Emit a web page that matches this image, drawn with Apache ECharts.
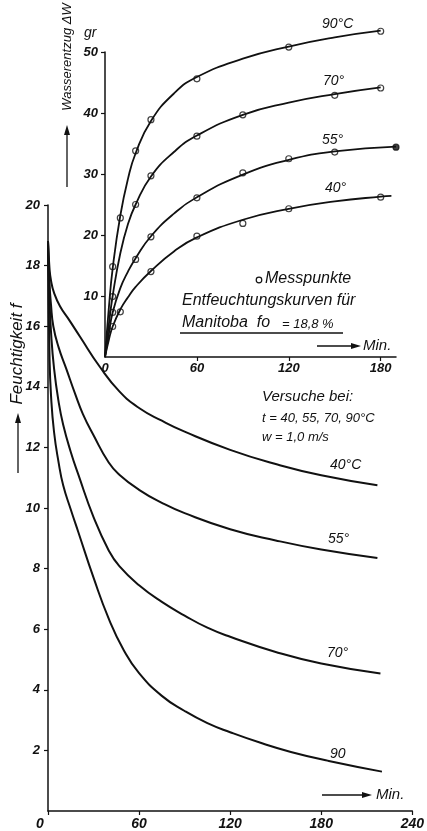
<!DOCTYPE html>
<html>
<head>
<meta charset="utf-8">
<script src="https://cdn.jsdelivr.net/npm/echarts@6.0.0/dist/echarts.min.js"></script>
<style>
  html, body { margin: 0; padding: 0; background: #fff; }
  #chart { width: 427px; height: 831px; }
</style>
</head>
<body>
<div id="chart"></div>
<script>
// ---- Feuchtigkeit f (%) over time, drying at 40, 55, 70, 90 °C ----
const fTicks = [2, 4, 6, 8, 10, 12, 14, 16, 18, 20];
const minTicksLower = [0, 60, 120, 180, 240];
const f40 = [[0,18.8],[1,17.9],[2,17.5],[4,17.1],[8,16.65],[14,16.2],[21,15.66],[34,14.67],[47,13.85],[60,13.3],[75,12.88],[90,12.52],[120,11.92],[150,11.45],[180,11.08],[217,10.75]];
const f55 = [[0,18.8],[1,17.4],[2,16.7],[3.5,16.0],[7,15.3],[12,14.6],[18,13.75],[23,13.1],[30,12.4],[40,11.5],[47,11.1],[60,10.6],[75,10.17],[90,9.83],[120,9.3],[150,8.93],[180,8.63],[217,8.35]];
const f70 = [[0,18.8],[1,16.9],[2,15.8],[4,14.6],[7,13.5],[10,12.75],[15,11.85],[20,11.1],[30,9.7],[40,8.6],[47,8.08],[60,7.45],[75,6.9],[90,6.45],[105,6.05],[120,5.75],[150,5.25],[180,4.87],[219,4.54]];
const f90 = [[0,18.8],[1,15.0],[2,13.7],[4,12.5],[7,11.5],[10,10.75],[15,9.95],[20,9.2],[30,7.7],[40,6.35],[50,5.3],[60,4.55],[75,3.8],[90,3.3],[105,2.9],[120,2.6],[140,2.25],[160,1.95],[185,1.65],[220,1.3]];

// ---- Wasserentzug ΔW (gr): measured points and drawn curves ----
const dwTicks = [10, 20, 30, 40, 50];
const minTicksUpper = [0, 60, 120, 180];
const dw90Pts = [[5,14.8],[10,22.8],[20,33.8],[30,38.9],[60,45.6],[120,50.8],[180,53.4]];
const dw70Pts = [[5,9.9],[20,25.0],[30,29.7],[60,36.2],[90,39.7],[150,42.9],[180,44.1]];
const dw55Pts = [[5,7.3],[20,16.0],[30,19.7],[60,26.1],[90,30.2],[120,32.5],[150,33.6]];
const dw55End = [[190,34.4]];
const dw40Pts = [[5,5.0],[10,7.4],[30,14.0],[60,19.8],[90,21.9],[120,24.3],[180,26.2]];
const dw90Curve = [[0,0],[2.5,8],[5,14.5],[10,23.2],[15,29.2],[20,33.4],[30,38.7],[45,43.2],[60,45.9],[90,48.9],[120,50.9],[150,52.4],[180,53.5]];
const dw70Curve = [[0,0],[2.5,5.3],[5,10],[10,17],[15,21.8],[20,25.0],[30,29.6],[45,33.6],[60,36.3],[90,39.7],[120,41.7],[150,43.1],[180,44.2]];
const dw55Curve = [[0,0],[2.5,3.8],[5,7.3],[10,11.3],[15,14.0],[20,16.2],[30,19.8],[45,23.5],[60,26.2],[90,29.9],[120,32.3],[150,33.7],[190,34.5]];
const dw40Curve = [[0,0],[2.5,2.8],[5,5.0],[10,7.8],[15,9.8],[20,11.5],[30,14.1],[45,17.3],[60,19.6],[90,22.5],[120,24.3],[150,25.5],[180,26.3],[187,26.4]];

const FONT = 'Liberation Sans';
const INK = '#111';

function axisLabelStyle(size) {
  return { color: INK, fontFamily: FONT, fontStyle: 'italic', fontWeight: 'bold', fontSize: size };
}
function curve(data, xi, yi, w) {
  return {
    type: 'line', xAxisIndex: xi, yAxisIndex: yi, data: data,
    smooth: 0.5, showSymbol: false, symbol: 'none',
    clip: false, silent: true,
    lineStyle: { color: INK, width: w }
  };
}
function points(data, filled) {
  return {
    type: 'scatter', xAxisIndex: 1, yAxisIndex: 1, data: data,
    symbol: 'circle', symbolSize: 6, clip: false, silent: true,
    itemStyle: { color: filled ? INK : '#fff', borderColor: INK, borderWidth: 1.2 }
  };
}
function txt(x, y, s, size) {
  return {
    type: 'text', x: x, y: y,
    style: { text: s, fill: INK, font: 'italic ' + size + 'px "' + FONT + '"', textVerticalAlign: 'middle' }
  };
}
function vtxt(x, y, s, size) {
  return {
    type: 'text', x: x, y: y, rotation: Math.PI / 2,
    style: { text: s, fill: INK, font: 'italic ' + size + 'px "' + FONT + '"', textAlign: 'center', textVerticalAlign: 'middle' }
  };
}
function arrowRight(x1, x2, y) {
  return {
    type: 'group', children: [
      { type: 'line', shape: { x1: x1, y1: y, x2: x2 - 8, y2: y }, style: { stroke: INK, lineWidth: 1.3 } },
      { type: 'polygon', shape: { points: [[x2, y], [x2 - 10, y - 3], [x2 - 10, y + 3]] }, style: { fill: INK } }
    ]
  };
}
function arrowUp(x, y1, y2) {
  return {
    type: 'group', children: [
      { type: 'line', shape: { x1: x, y1: y1, x2: x, y2: y2 + 8 }, style: { stroke: INK, lineWidth: 1.3 } },
      { type: 'polygon', shape: { points: [[x, y2], [x - 3, y2 + 10], [x + 3, y2 + 10]] }, style: { fill: INK } }
    ]
  };
}

const chart = echarts.init(document.getElementById('chart'), null, { renderer: 'canvas' });

const option = {
  backgroundColor: '#fff',
  animation: false,
  grid: [
    { left: 48, top: 205, width: 366, height: 606 },
    { left: 105, top: 52, width: 291, height: 305 }
  ],
  xAxis: [
    {
      gridIndex: 0, type: 'value', min: 0, max: 240, interval: 60,
      axisLine: { lineStyle: { color: INK, width: 1.5 } },
      axisTick: { length: 4, lineStyle: { color: INK, width: 1.2 } },
      splitLine: { show: false },
      axisLabel: Object.assign(axisLabelStyle(14), {
        margin: 6, customValues: minTicksLower,
        formatter: v => v === 0 ? '{z|0}' : String(v),
        rich: { z: Object.assign(axisLabelStyle(14), { padding: [0, 16, 0, 0] }) }
      })
    },
    {
      gridIndex: 1, type: 'value', min: 0, max: 190,
      axisLine: { lineStyle: { color: INK, width: 1.5 } },
      axisTick: { length: 4, customValues: minTicksUpper.slice(1), lineStyle: { color: INK, width: 1.2 } },
      splitLine: { show: false },
      axisLabel: Object.assign(axisLabelStyle(13), { margin: 5, customValues: minTicksUpper })
    }
  ],
  yAxis: [
    {
      gridIndex: 0, type: 'value', min: 0, max: 20, interval: 2,
      axisLine: { lineStyle: { color: INK, width: 1.5 } },
      axisTick: { length: 4, customValues: fTicks, lineStyle: { color: INK, width: 1.2 } },
      splitLine: { show: false },
      axisLabel: Object.assign(axisLabelStyle(13), { margin: 8, customValues: fTicks })
    },
    {
      gridIndex: 1, type: 'value', min: 0, max: 50, interval: 10,
      axisLine: { lineStyle: { color: INK, width: 1.5 } },
      axisTick: { length: 4, customValues: dwTicks, lineStyle: { color: INK, width: 1.2 } },
      splitLine: { show: false },
      axisLabel: Object.assign(axisLabelStyle(13), { margin: 7, customValues: dwTicks })
    }
  ],
  series: [
    curve(f40, 0, 0, 2), curve(f55, 0, 0, 2), curve(f70, 0, 0, 2), curve(f90, 0, 0, 2),
    curve(dw90Curve, 1, 1, 1.8), curve(dw70Curve, 1, 1, 1.8), curve(dw55Curve, 1, 1, 1.8), curve(dw40Curve, 1, 1, 1.8),
    points(dw90Pts, false), points(dw70Pts, false), points(dw55Pts, false), points(dw40Pts, false),
    points(dw55End, true)
  ],
  graphic: [
    // axis titles
    vtxt(67, 57, 'Wasserentzug \u0394W', 13),
    arrowUp(67, 187, 125),
    txt(84, 33, 'gr', 14),
    vtxt(17, 354, 'Feuchtigkeit f', 17),
    arrowUp(18, 473, 413),
    // upper curve labels
    txt(322, 24, '90°C', 14),
    txt(323, 81, '70°', 14),
    txt(322, 140, '55°', 14),
    txt(325, 188, '40°', 14),
    // upper notes
    { type: 'circle', shape: { cx: 259, cy: 280, r: 2.8 }, style: { fill: '#fff', stroke: INK, lineWidth: 1.2 } },
    txt(265, 279, 'Messpunkte', 16),
    txt(182, 301, 'Entfeuchtungskurven für', 16),
    txt(182, 323, 'Manitoba  fo', 16),
    txt(282, 324, '= 18,8 %', 13),
    { type: 'line', shape: { x1: 180, y1: 333, x2: 343, y2: 333 }, style: { stroke: INK, lineWidth: 1.5 } },
    arrowRight(317, 361, 346),
    txt(363, 346, 'Min.', 15),
    // lower notes
    txt(262, 397, 'Versuche bei:', 15),
    txt(262, 418, 't = 40, 55, 70, 90°C', 13),
    txt(262, 437, 'w = 1,0 m/s', 13),
    txt(330, 465, '40°C', 14),
    txt(328, 539, '55°', 14),
    txt(327, 653, '70°', 14),
    txt(330, 754, '90', 14),
    arrowRight(322, 372, 795),
    txt(376, 795, 'Min.', 15)
  ]
};
chart.setOption(option);
</script>
</body>
</html>
